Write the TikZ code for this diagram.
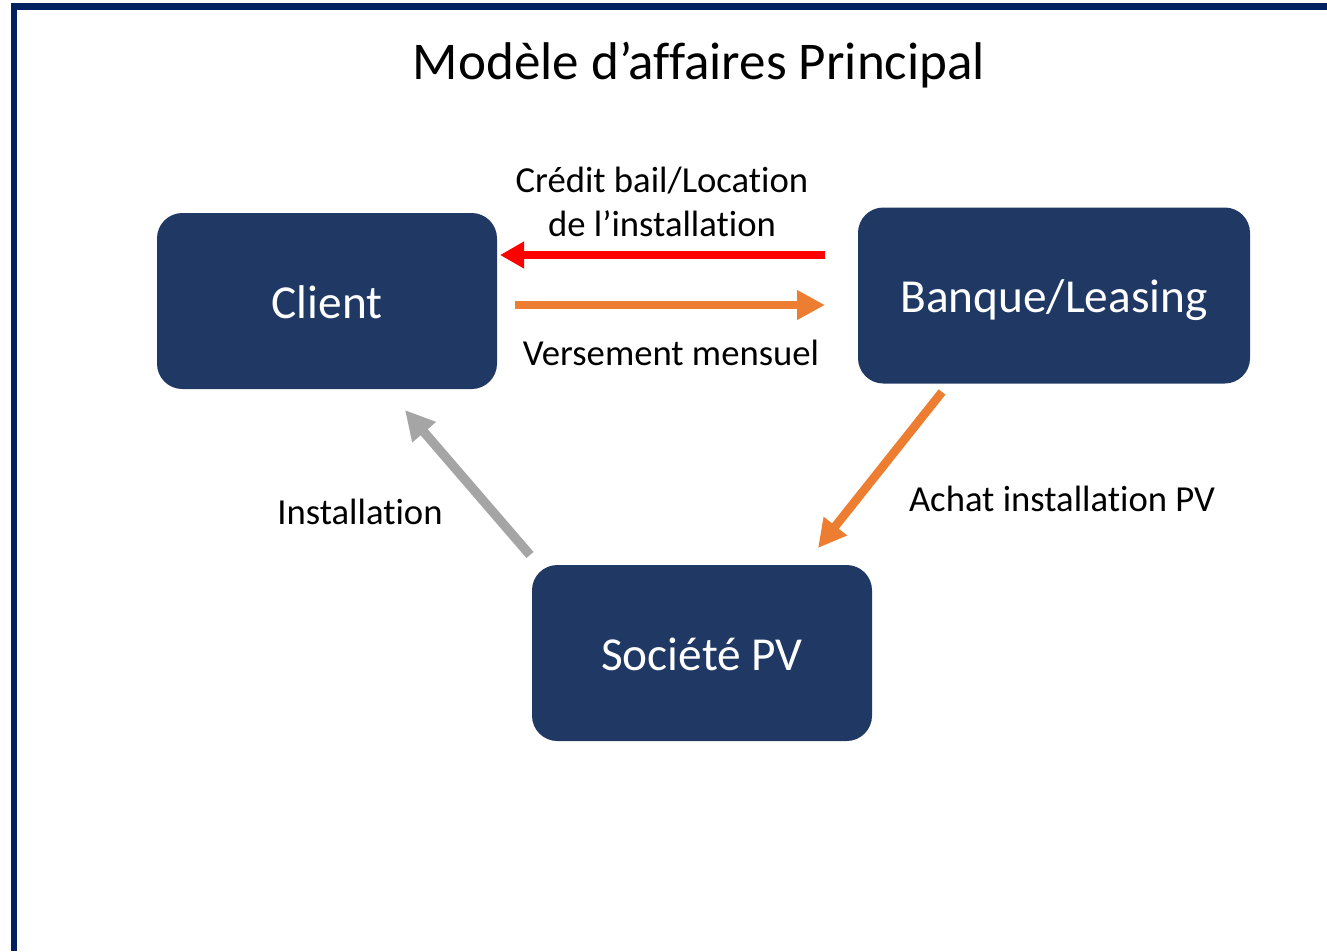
\documentclass[tikz,border=0pt]{standalone}
\usepackage{fontspec}
\setmainfont{Carlito}[Ligatures=NoCommon]
\usetikzlibrary{arrows.meta}
\definecolor{frameblue}{HTML}{002060}
\definecolor{boxblue}{HTML}{203864}
\definecolor{pvorange}{HTML}{ED7D31}
\definecolor{pvgray}{HTML}{A5A5A5}
\tikzset{
  actor/.style={fill=boxblue, text=white, rounded corners=19pt, font=\fontsize{35.5}{42}\selectfont, minimum height=132pt, text height=25.5pt, text depth=0pt},
  flowlabel/.style={font=\fontsize{27.5}{33}\selectfont, align=center},
  redflow/.style={draw=red, line width=5.5pt, -{Triangle[length=18pt,width=19pt]}},
  orangeflow/.style={draw=pvorange, line width=6.5pt, -{Triangle[length=21pt,width=21pt]}},
  grayflow/.style={draw=pvgray, line width=7pt, -{Triangle[length=22pt,width=22pt]}}
}
\begin{document}
\begin{tikzpicture}[x=0.75pt,y=-0.75pt]
    \useasboundingbox (0,0) rectangle (1327,951);
    % frame
    \fill[frameblue] (11,3) rectangle (1327,10);
    \fill[frameblue] (11,3) rectangle (17,951);
    \node[font=\fontsize{39.8}{47}\selectfont] (title) at (699,65) {Modèle d’affaires Principal};
    % actors
    \node[actor, minimum width=255pt] (client) at (327,301) {Client};
    \node[actor, minimum width=294pt] (bank) at (1054,295.5) {Banque/Leasing};
    \node[actor, minimum width=255pt] (pv) at (702,653) {Société PV};
    % connector ends
    \coordinate (leaseS) at (825,255);
    \coordinate (leaseE) at (500,255);
    \coordinate (payS) at (515,305);
    \coordinate (payE) at (825,305);
    \coordinate (instS) at (530,555);
    \coordinate (instE) at (405,410);
    \coordinate (buyS) at (942,392);
    \coordinate (buyE) at (818,548);
    % flows
    \draw[redflow] (leaseS) -- (leaseE);
    \draw[orangeflow] (payS) -- (payE);
    \draw[grayflow] (instS) -- (instE);
    \draw[orangeflow] (buyS) -- (buyE);
    % labels
    \node[flowlabel] (leaselbl) at (662,202) {Crédit bail/Location\\de l’installation};
    \node[flowlabel] (paylbl) at (671,353) {Versement mensuel};
    \node[flowlabel] (instlbl) at (360,512) {Installation};
    \node[flowlabel] (buylbl) at (1062,499) {Achat installation PV};
\end{tikzpicture}
\end{document}
